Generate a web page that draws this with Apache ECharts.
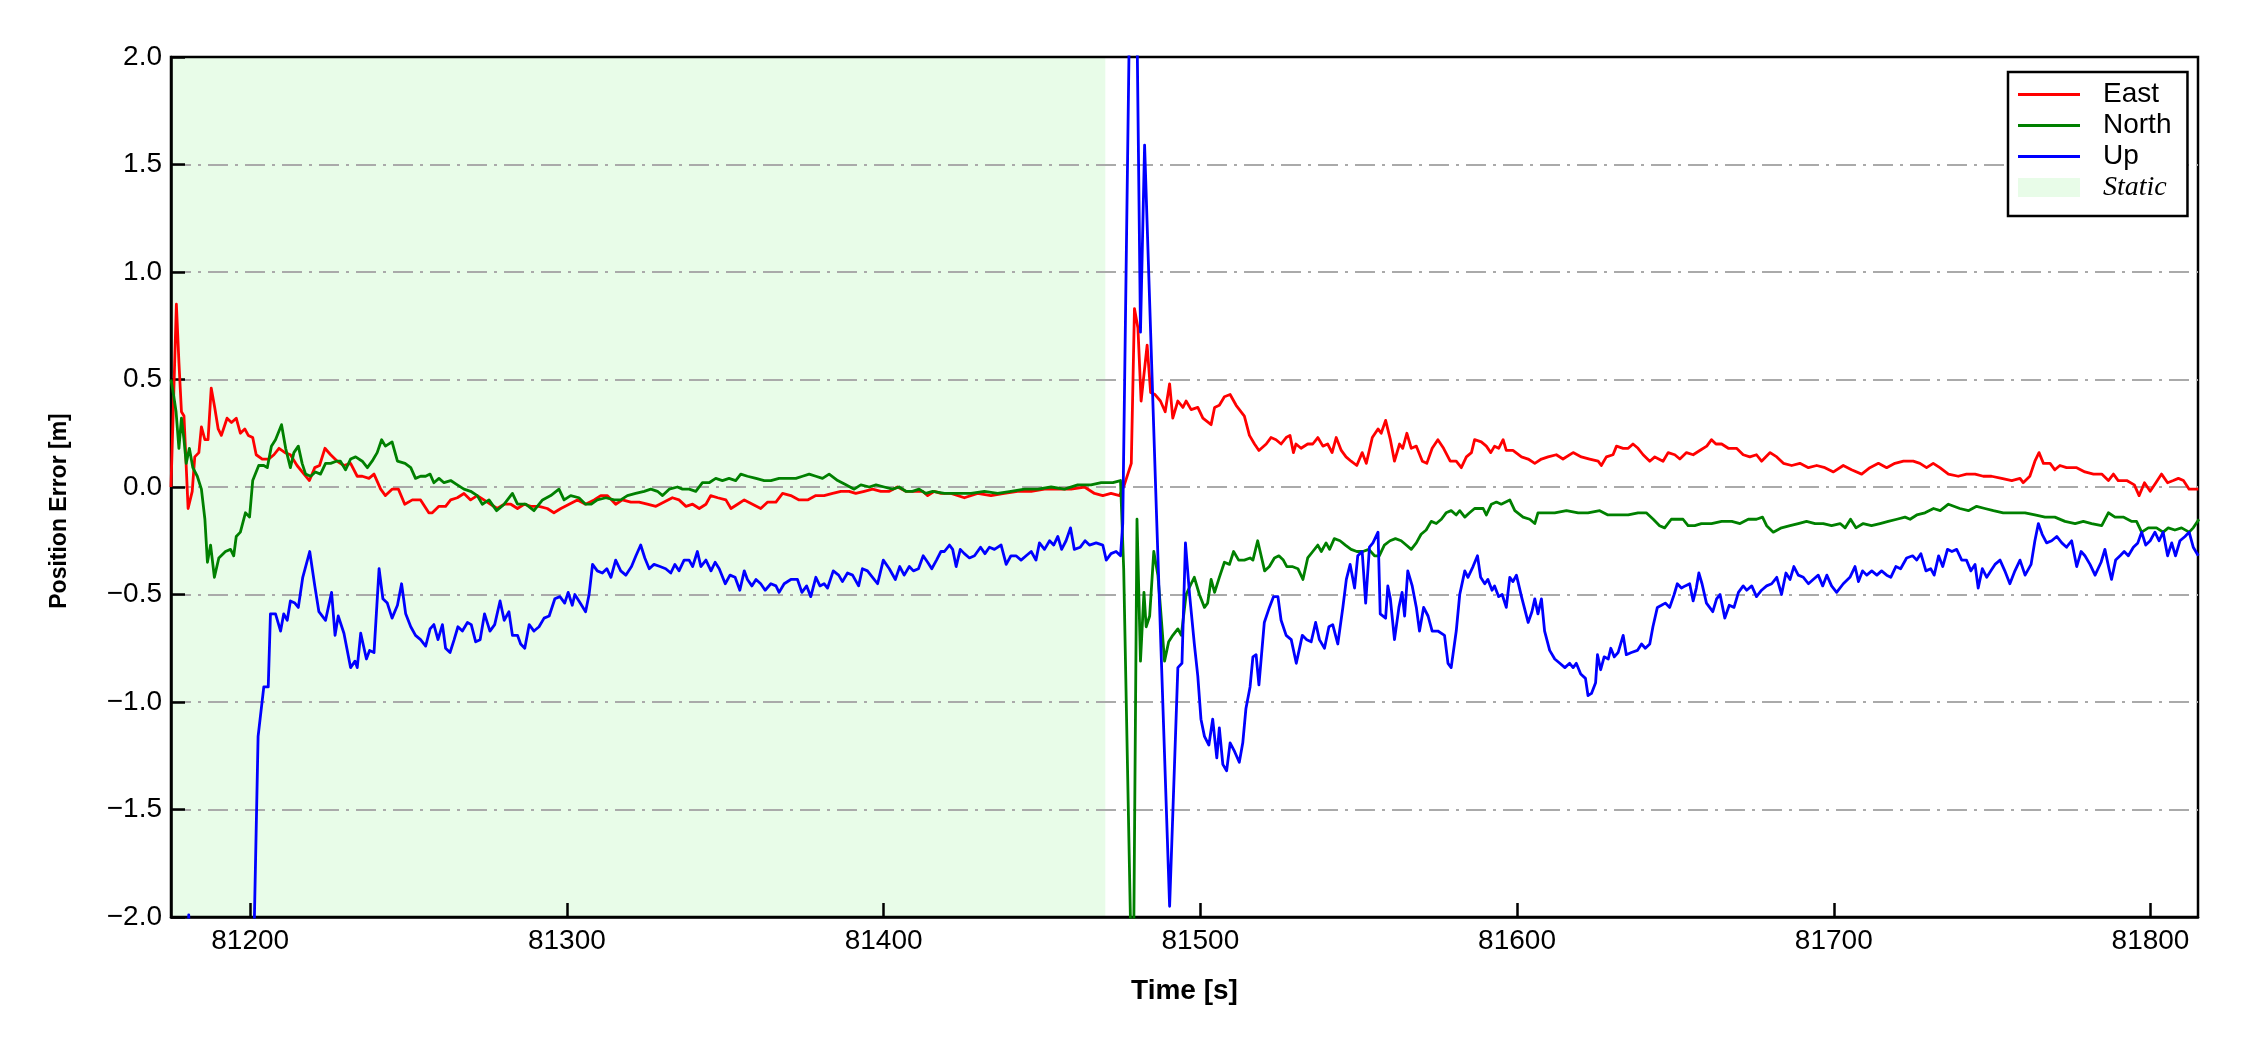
<!DOCTYPE html>
<html>
<head>
<meta charset="utf-8">
<script src="https://cdn.jsdelivr.net/npm/echarts@6/dist/echarts.min.js"></script>
<style>html,body{margin:0;padding:0;background:#fff;}#chart{width:2250px;height:1050px;}</style>
</head>
<body>
<div id="chart"></div>
<script>
// ---- Data (time [s], error [m]) ----
const xTicks = [81200, 81300, 81400, 81500, 81600, 81700, 81800];
const yTicks = [-2.0, -1.5, -1.0, -0.5, 0.0, 0.5, 1.0, 1.5, 2.0];
const staticSpan = [81175, 81470];
const seriesNames = ['East', 'North', 'Up', 'Static'];

const eastData = [[81175.0,0.00],[81176.7,0.85],[81177.5,0.58],[81178.3,0.35],[81179.1,0.33],[81180.4,-0.10],[81181.7,-0.02],[81182.5,0.14],[81183.8,0.16],[81184.6,0.28],[81185.7,0.22],[81186.7,0.22],[81187.7,0.46],[81188.8,0.37],[81189.9,0.27],[81190.9,0.24],[81192.7,0.32],[81194.1,0.30],[81195.6,0.32],[81196.9,0.25],[81198.3,0.27],[81199.4,0.24],[81200.8,0.23],[81201.9,0.15],[81203.8,0.13],[81205.9,0.13],[81207.5,0.15],[81209.1,0.18],[81211.0,0.16],[81212.7,0.15],[81214.8,0.10],[81217.0,0.06],[81218.7,0.03],[81220.4,0.09],[81221.9,0.10],[81223.6,0.18],[81225.4,0.15],[81227.5,0.12],[81229.6,0.10],[81231.7,0.11],[81233.8,0.05],[81235.4,0.05],[81237.5,0.04],[81239.1,0.06],[81241.2,-0.01],[81242.7,-0.04],[81244.8,-0.01],[81246.8,-0.01],[81248.8,-0.08],[81251.2,-0.06],[81253.8,-0.06],[81256.4,-0.12],[81257.5,-0.12],[81259.6,-0.09],[81261.7,-0.09],[81263.3,-0.06],[81265.4,-0.05],[81267.5,-0.03],[81269.6,-0.06],[81271.7,-0.04],[81273.8,-0.06],[81275.9,-0.08],[81278.0,-0.10],[81280.2,-0.08],[81282.3,-0.08],[81284.4,-0.10],[81286.5,-0.08],[81288.6,-0.09],[81291.2,-0.09],[81293.8,-0.10],[81295.9,-0.12],[81298.1,-0.10],[81300.7,-0.08],[81303.3,-0.06],[81305.9,-0.08],[81308.6,-0.06],[81310.7,-0.04],[81312.8,-0.04],[81315.4,-0.08],[81317.5,-0.06],[81320.2,-0.07],[81322.8,-0.07],[81325.4,-0.08],[81328.1,-0.09],[81330.7,-0.07],[81333.3,-0.05],[81335.4,-0.06],[81337.6,-0.09],[81339.7,-0.08],[81341.8,-0.10],[81343.9,-0.08],[81345.4,-0.04],[81347.6,-0.05],[81350.2,-0.06],[81351.8,-0.10],[81353.9,-0.08],[81356.0,-0.06],[81358.6,-0.08],[81361.2,-0.10],[81363.4,-0.07],[81366.0,-0.07],[81368.1,-0.03],[81370.7,-0.04],[81373.3,-0.06],[81376.0,-0.06],[81378.6,-0.04],[81381.2,-0.04],[81383.9,-0.03],[81386.5,-0.02],[81389.1,-0.02],[81391.2,-0.03],[81393.9,-0.02],[81396.5,-0.01],[81399.1,-0.02],[81401.8,-0.02],[81404.4,0.00],[81407.0,-0.02],[81409.7,-0.02],[81412.3,-0.02],[81413.9,-0.04],[81416.0,-0.02],[81418.1,-0.03],[81421.3,-0.03],[81425.5,-0.05],[81429.7,-0.03],[81433.9,-0.04],[81438.1,-0.03],[81442.3,-0.02],[81446.6,-0.02],[81450.8,-0.01],[81455.0,-0.01],[81459.2,-0.01],[81463.4,0.00],[81466.6,-0.03],[81469.2,-0.04],[81471.8,-0.03],[81474.5,-0.04],[81476.0,0.01],[81478.2,0.11],[81479.2,0.83],[81480.3,0.74],[81481.3,0.40],[81483.2,0.66],[81484.3,0.44],[81485.7,0.43],[81487.4,0.40],[81488.9,0.35],[81490.3,0.48],[81491.3,0.32],[81492.9,0.40],[81494.5,0.37],[81495.5,0.40],[81497.1,0.36],[81499.2,0.37],[81500.8,0.32],[81503.4,0.29],[81504.5,0.37],[81506.0,0.38],[81507.6,0.42],[81509.4,0.43],[81511.3,0.38],[81513.9,0.33],[81515.5,0.24],[81517.1,0.20],[81518.5,0.17],[81520.8,0.20],[81522.3,0.23],[81523.9,0.22],[81525.5,0.20],[81527.1,0.23],[81528.3,0.24],[81529.4,0.16],[81530.2,0.20],[81531.8,0.18],[81533.9,0.20],[81535.5,0.20],[81537.1,0.23],[81538.7,0.19],[81540.2,0.20],[81541.6,0.16],[81542.9,0.23],[81544.5,0.17],[81546.0,0.14],[81547.6,0.12],[81549.4,0.10],[81551.1,0.16],[81552.4,0.11],[81554.3,0.23],[81556.1,0.27],[81557.1,0.25],[81558.5,0.31],[81560.0,0.22],[81561.3,0.12],[81562.9,0.20],[81563.9,0.18],[81565.2,0.25],[81566.6,0.18],[81568.2,0.19],[81570.1,0.12],[81571.5,0.11],[81573.2,0.18],[81575.0,0.22],[81576.8,0.18],[81578.9,0.12],[81580.8,0.12],[81582.4,0.09],[81584.0,0.14],[81585.6,0.16],[81586.6,0.22],[81588.7,0.21],[81590.3,0.19],[81591.7,0.16],[81592.9,0.19],[81594.2,0.18],[81595.6,0.22],[81596.6,0.17],[81598.7,0.17],[81601.4,0.14],[81603.5,0.13],[81605.6,0.11],[81607.7,0.13],[81609.8,0.14],[81612.4,0.15],[81614.5,0.13],[81617.7,0.16],[81620.3,0.14],[81622.9,0.13],[81625.6,0.12],[81626.6,0.10],[81628.2,0.14],[81630.3,0.15],[81631.4,0.19],[81633.5,0.18],[81635.1,0.18],[81636.6,0.20],[81638.2,0.18],[81639.8,0.15],[81641.9,0.12],[81643.5,0.14],[81646.1,0.12],[81647.7,0.16],[81649.8,0.15],[81651.4,0.13],[81653.5,0.16],[81655.6,0.15],[81657.7,0.17],[81659.9,0.19],[81661.4,0.22],[81662.8,0.20],[81664.6,0.20],[81666.7,0.18],[81669.3,0.18],[81671.4,0.15],[81673.5,0.14],[81675.6,0.15],[81677.2,0.12],[81679.9,0.16],[81682.0,0.14],[81684.1,0.11],[81686.7,0.10],[81689.3,0.11],[81692.0,0.09],[81694.6,0.10],[81697.2,0.09],[81699.9,0.07],[81703.0,0.10],[81705.6,0.08],[81708.8,0.06],[81711.4,0.09],[81714.1,0.11],[81716.7,0.09],[81719.3,0.11],[81722.0,0.12],[81725.1,0.12],[81727.2,0.11],[81729.3,0.09],[81731.4,0.11],[81733.5,0.09],[81736.2,0.06],[81739.3,0.05],[81741.9,0.06],[81744.6,0.06],[81747.2,0.05],[81749.8,0.05],[81753.0,0.04],[81756.2,0.03],[81758.8,0.04],[81759.8,0.02],[81761.9,0.05],[81763.5,0.12],[81764.8,0.16],[81766.2,0.11],[81768.3,0.11],[81769.8,0.08],[81771.4,0.10],[81773.5,0.09],[81776.7,0.09],[81779.3,0.07],[81782.0,0.06],[81784.6,0.06],[81786.7,0.03],[81788.3,0.06],[81789.8,0.03],[81792.5,0.03],[81794.9,0.01],[81796.4,-0.04],[81798.1,0.02],[81799.9,-0.02],[81801.7,0.02],[81803.5,0.06],[81805.4,0.02],[81807.2,0.03],[81808.8,0.04],[81810.4,0.03],[81812.2,-0.01],[81815.1,-0.01]];

const northData = [[81175.0,0.50],[81175.9,0.42],[81176.6,0.35],[81177.5,0.18],[81178.3,0.32],[81179.1,0.22],[81179.8,0.11],[81180.8,0.18],[81181.9,0.09],[81183.3,0.05],[81184.6,-0.01],[81185.7,-0.15],[81186.5,-0.35],[81187.5,-0.27],[81188.7,-0.42],[81190.1,-0.33],[81192.2,-0.30],[81193.8,-0.29],[81194.8,-0.32],[81195.6,-0.23],[81196.9,-0.21],[81198.5,-0.12],[81199.8,-0.14],[81200.8,0.03],[81202.7,0.10],[81204.3,0.10],[81205.4,0.09],[81206.7,0.19],[81208.0,0.22],[81209.9,0.29],[81211.2,0.18],[81212.7,0.09],[81213.8,0.16],[81215.2,0.19],[81216.4,0.11],[81217.5,0.06],[81219.1,0.05],[81220.6,0.07],[81222.2,0.06],[81223.8,0.11],[81225.4,0.11],[81227.2,0.12],[81228.5,0.12],[81230.1,0.08],[81231.7,0.13],[81233.3,0.14],[81235.4,0.12],[81237.0,0.09],[81238.5,0.12],[81240.1,0.16],[81241.5,0.22],[81242.7,0.19],[81244.8,0.21],[81246.5,0.12],[81248.9,0.11],[81250.7,0.09],[81252.2,0.04],[81253.8,0.05],[81255.4,0.05],[81256.8,0.06],[81258.0,0.02],[81259.6,0.04],[81261.2,0.02],[81263.3,0.03],[81265.4,0.01],[81267.5,-0.01],[81269.6,-0.02],[81271.7,-0.04],[81273.3,-0.08],[81275.4,-0.06],[81277.8,-0.11],[81280.2,-0.08],[81282.8,-0.03],[81284.4,-0.08],[81287.0,-0.08],[81289.6,-0.11],[81292.3,-0.06],[81294.9,-0.04],[81297.5,-0.01],[81299.1,-0.06],[81301.2,-0.04],[81303.8,-0.05],[81305.9,-0.08],[81307.7,-0.08],[81309.6,-0.06],[81312.3,-0.05],[81314.9,-0.06],[81317.0,-0.06],[81319.1,-0.04],[81321.7,-0.03],[81324.4,-0.02],[81326.5,-0.01],[81328.6,-0.02],[81330.2,-0.04],[81332.3,-0.01],[81334.9,0.00],[81336.5,-0.01],[81338.6,-0.01],[81340.7,-0.02],[81342.8,0.02],[81344.9,0.02],[81347.0,0.04],[81349.1,0.03],[81351.2,0.04],[81353.3,0.03],[81354.9,0.06],[81357.0,0.05],[81359.7,0.04],[81362.3,0.03],[81364.4,0.03],[81367.0,0.04],[81369.7,0.04],[81372.3,0.04],[81374.4,0.05],[81376.5,0.06],[81378.6,0.05],[81380.7,0.04],[81382.8,0.06],[81385.5,0.03],[81388.1,0.01],[81390.7,-0.01],[81392.8,0.01],[81395.5,0.00],[81397.6,0.01],[81400.2,0.00],[81402.8,-0.01],[81404.9,0.00],[81407.0,-0.02],[81409.1,-0.02],[81411.2,-0.01],[81413.3,-0.03],[81415.5,-0.02],[81419.2,-0.03],[81423.4,-0.03],[81427.6,-0.03],[81431.8,-0.02],[81436.0,-0.03],[81440.2,-0.02],[81444.5,-0.01],[81448.7,-0.01],[81452.9,0.00],[81457.1,-0.01],[81461.3,0.01],[81465.5,0.01],[81468.7,0.02],[81472.4,0.02],[81474.8,0.03],[81475.8,-0.38],[81478.7,-2.60],[81480.0,-0.15],[81481.1,-0.81],[81482.2,-0.49],[81482.9,-0.65],[81484.0,-0.60],[81485.3,-0.30],[81486.6,-0.41],[81487.4,-0.56],[81488.7,-0.81],[81490.0,-0.72],[81491.3,-0.69],[81492.9,-0.66],[81494.0,-0.69],[81495.5,-0.50],[81497.1,-0.45],[81498.1,-0.42],[81499.7,-0.50],[81501.3,-0.56],[81502.3,-0.54],[81503.4,-0.43],[81504.5,-0.49],[81506.0,-0.42],[81507.6,-0.35],[81509.2,-0.36],[81510.5,-0.30],[81512.1,-0.34],[81513.9,-0.34],[81515.7,-0.33],[81516.6,-0.34],[81518.1,-0.25],[81520.3,-0.39],[81521.8,-0.37],[81523.4,-0.33],[81524.8,-0.32],[81526.2,-0.34],[81527.3,-0.37],[81529.0,-0.37],[81530.8,-0.38],[81532.4,-0.43],[81533.9,-0.33],[81535.5,-0.30],[81537.1,-0.27],[81538.2,-0.30],[81539.7,-0.26],[81540.8,-0.29],[81542.3,-0.24],[81544.1,-0.25],[81545.8,-0.27],[81547.6,-0.29],[81549.4,-0.30],[81551.3,-0.30],[81553.2,-0.29],[81555.0,-0.32],[81556.5,-0.32],[81558.1,-0.27],[81559.9,-0.25],[81561.6,-0.24],[81563.4,-0.25],[81565.0,-0.27],[81566.6,-0.29],[81568.2,-0.26],[81569.7,-0.22],[81571.3,-0.20],[81572.9,-0.16],[81574.5,-0.17],[81576.1,-0.15],[81577.6,-0.12],[81579.2,-0.11],[81580.8,-0.13],[81581.9,-0.11],[81583.5,-0.14],[81585.0,-0.12],[81586.6,-0.10],[81589.3,-0.10],[81590.3,-0.13],[81591.9,-0.08],[81593.5,-0.07],[81595.0,-0.08],[81597.7,-0.06],[81599.3,-0.11],[81601.9,-0.14],[81604.0,-0.15],[81605.6,-0.17],[81606.6,-0.12],[81608.7,-0.12],[81611.9,-0.12],[81615.6,-0.11],[81619.3,-0.12],[81622.4,-0.12],[81626.1,-0.11],[81628.7,-0.13],[81631.9,-0.13],[81635.1,-0.13],[81638.2,-0.12],[81640.8,-0.12],[81643.0,-0.15],[81645.0,-0.18],[81646.6,-0.19],[81648.7,-0.15],[81650.8,-0.15],[81652.4,-0.15],[81654.0,-0.18],[81656.1,-0.18],[81658.2,-0.17],[81661.4,-0.17],[81664.6,-0.16],[81667.8,-0.16],[81670.4,-0.17],[81673.0,-0.15],[81675.6,-0.15],[81677.5,-0.14],[81678.8,-0.18],[81680.9,-0.21],[81683.5,-0.19],[81686.2,-0.18],[81688.8,-0.17],[81691.4,-0.16],[81694.1,-0.17],[81696.7,-0.17],[81699.3,-0.18],[81702.0,-0.17],[81703.6,-0.19],[81705.3,-0.15],[81707.0,-0.19],[81709.3,-0.17],[81711.9,-0.18],[81714.6,-0.17],[81717.2,-0.16],[81719.9,-0.15],[81722.5,-0.14],[81724.1,-0.15],[81726.2,-0.13],[81728.8,-0.12],[81731.5,-0.10],[81733.6,-0.11],[81736.2,-0.08],[81739.8,-0.10],[81742.5,-0.11],[81745.1,-0.09],[81747.7,-0.10],[81750.4,-0.11],[81753.5,-0.12],[81757.2,-0.12],[81760.4,-0.12],[81763.5,-0.13],[81766.7,-0.14],[81769.8,-0.14],[81773.0,-0.16],[81776.2,-0.17],[81778.8,-0.16],[81781.4,-0.17],[81784.6,-0.18],[81786.7,-0.12],[81788.8,-0.14],[81791.4,-0.14],[81794.1,-0.16],[81795.6,-0.16],[81797.2,-0.21],[81799.3,-0.19],[81801.9,-0.19],[81804.0,-0.21],[81805.6,-0.19],[81807.7,-0.20],[81809.8,-0.19],[81812.2,-0.21],[81813.5,-0.19],[81815.3,-0.15]];

const upData = [[81175.0,-3.00],[81179.8,-2.60],[81180.6,-1.99],[81181.4,-2.60],[81199.5,-3.00],[81200.5,-2.60],[81202.5,-1.16],[81204.3,-0.93],[81205.7,-0.93],[81206.4,-0.59],[81208.0,-0.59],[81209.6,-0.67],[81210.6,-0.59],[81211.7,-0.62],[81212.7,-0.53],[81214.1,-0.54],[81215.2,-0.56],[81216.6,-0.42],[81218.8,-0.30],[81220.4,-0.46],[81221.7,-0.58],[81223.8,-0.62],[81225.7,-0.49],[81226.8,-0.69],[81227.8,-0.60],[81229.6,-0.68],[81231.7,-0.84],[81233.1,-0.81],[81233.8,-0.84],[81234.9,-0.68],[81236.7,-0.80],[81237.7,-0.76],[81239.1,-0.77],[81240.7,-0.38],[81241.9,-0.52],[81243.3,-0.54],[81244.8,-0.61],[81246.5,-0.55],[81247.8,-0.45],[81249.1,-0.59],[81250.7,-0.65],[81252.2,-0.69],[81253.8,-0.71],[81255.4,-0.74],[81256.8,-0.66],[81258.0,-0.64],[81259.3,-0.71],[81260.7,-0.64],[81261.7,-0.75],[81263.1,-0.77],[81264.4,-0.71],[81265.6,-0.65],[81267.0,-0.67],[81268.6,-0.63],[81269.8,-0.64],[81271.2,-0.72],[81272.6,-0.71],[81274.0,-0.59],[81275.7,-0.67],[81277.2,-0.64],[81278.9,-0.53],[81280.2,-0.62],[81281.7,-0.58],[81282.8,-0.69],[81284.4,-0.69],[81285.4,-0.73],[81286.7,-0.75],[81288.1,-0.64],[81289.6,-0.67],[81291.2,-0.65],[81292.8,-0.61],[81294.4,-0.60],[81296.2,-0.52],[81297.8,-0.51],[81299.3,-0.54],[81300.4,-0.49],[81301.7,-0.55],[81302.5,-0.50],[81304.2,-0.54],[81305.9,-0.58],[81307.0,-0.50],[81308.1,-0.36],[81309.6,-0.39],[81311.2,-0.40],[81312.6,-0.38],[81313.9,-0.42],[81315.4,-0.34],[81317.0,-0.39],[81318.6,-0.41],[81320.4,-0.37],[81321.8,-0.32],[81323.3,-0.27],[81324.6,-0.33],[81326.0,-0.38],[81327.5,-0.36],[81329.4,-0.37],[81331.2,-0.38],[81332.8,-0.40],[81334.1,-0.36],[81335.4,-0.39],[81337.0,-0.34],[81338.6,-0.34],[81339.7,-0.37],[81341.2,-0.30],[81342.3,-0.37],[81343.9,-0.34],[81345.5,-0.39],[81346.8,-0.35],[81348.1,-0.38],[81350.0,-0.45],[81351.5,-0.41],[81353.1,-0.42],[81354.6,-0.48],[81356.0,-0.39],[81357.0,-0.43],[81358.4,-0.46],[81359.7,-0.43],[81361.2,-0.45],[81362.6,-0.48],[81364.4,-0.45],[81366.0,-0.46],[81367.0,-0.49],[81368.6,-0.45],[81370.7,-0.43],[81372.8,-0.43],[81374.2,-0.49],[81375.7,-0.46],[81377.0,-0.51],[81378.6,-0.42],[81379.9,-0.46],[81381.2,-0.45],[81382.3,-0.47],[81384.1,-0.39],[81385.8,-0.41],[81387.0,-0.44],[81388.6,-0.40],[81390.2,-0.41],[81392.1,-0.46],[81393.3,-0.38],[81394.9,-0.39],[81396.5,-0.42],[81398.1,-0.45],[81399.9,-0.34],[81401.8,-0.38],[81403.7,-0.43],[81405.1,-0.37],[81406.5,-0.41],[81408.1,-0.37],[81409.4,-0.39],[81411.0,-0.38],[81412.5,-0.32],[81413.9,-0.35],[81415.2,-0.38],[81416.7,-0.34],[81418.1,-0.30],[81419.2,-0.30],[81420.8,-0.27],[81421.8,-0.29],[81422.9,-0.37],[81424.2,-0.29],[81425.5,-0.31],[81427.1,-0.33],[81428.7,-0.32],[81430.6,-0.28],[81432.0,-0.31],[81433.4,-0.28],[81435.0,-0.29],[81437.1,-0.27],[81438.7,-0.36],[81440.2,-0.32],[81441.8,-0.32],[81443.4,-0.34],[81445.0,-0.32],[81446.6,-0.30],[81448.1,-0.34],[81449.2,-0.26],[81450.8,-0.29],[81452.4,-0.25],[81453.7,-0.27],[81455.0,-0.23],[81456.2,-0.29],[81457.6,-0.25],[81459.0,-0.19],[81460.2,-0.29],[81462.1,-0.28],[81463.6,-0.25],[81465.0,-0.27],[81467.1,-0.26],[81469.2,-0.27],[81470.3,-0.34],[81471.8,-0.31],[81473.4,-0.30],[81474.8,-0.32],[81475.5,-0.17],[81478.0,2.60],[81479.5,2.80],[81481.1,0.72],[81482.4,1.59],[81486.1,-0.10],[81490.3,-1.95],[81492.9,-0.84],[81494.2,-0.82],[81495.3,-0.26],[81496.6,-0.50],[81498.1,-0.73],[81499.2,-0.88],[81500.2,-1.08],[81501.3,-1.16],[81502.7,-1.20],[81503.9,-1.08],[81505.2,-1.26],[81506.0,-1.12],[81507.1,-1.29],[81508.3,-1.32],[81509.4,-1.19],[81510.8,-1.23],[81512.3,-1.28],[81513.4,-1.19],[81514.4,-1.03],[81515.7,-0.93],[81516.6,-0.79],[81517.6,-0.78],[81518.5,-0.92],[81520.2,-0.63],[81521.8,-0.56],[81523.1,-0.51],[81524.5,-0.51],[81525.5,-0.62],[81527.1,-0.69],[81528.7,-0.71],[81530.3,-0.82],[81532.2,-0.69],[81533.6,-0.71],[81535.0,-0.72],[81536.4,-0.63],[81537.6,-0.71],[81539.2,-0.75],[81540.6,-0.65],[81541.8,-0.64],[81543.4,-0.73],[81545.0,-0.56],[81546.1,-0.43],[81547.3,-0.36],[81548.7,-0.47],[81549.7,-0.32],[81551.1,-0.30],[81552.2,-0.54],[81553.4,-0.28],[81554.5,-0.26],[81556.1,-0.21],[81556.8,-0.59],[81558.5,-0.61],[81559.2,-0.46],[81560.0,-0.52],[81561.3,-0.71],[81562.7,-0.56],[81563.7,-0.49],[81564.5,-0.60],[81565.5,-0.39],[81566.9,-0.46],[81568.2,-0.56],[81569.2,-0.67],[81570.5,-0.56],[81571.9,-0.60],[81573.2,-0.67],[81575.0,-0.67],[81577.1,-0.69],[81578.2,-0.82],[81579.2,-0.84],[81580.8,-0.67],[81581.9,-0.50],[81583.5,-0.39],[81584.5,-0.42],[81586.1,-0.37],[81587.5,-0.32],[81588.5,-0.42],[81589.8,-0.45],[81590.8,-0.43],[81592.1,-0.48],[81592.9,-0.46],[81594.2,-0.51],[81595.3,-0.50],[81596.6,-0.56],[81597.7,-0.42],[81598.7,-0.44],[81599.8,-0.41],[81601.4,-0.51],[81603.5,-0.63],[81604.7,-0.58],[81605.6,-0.52],[81606.6,-0.59],[81607.7,-0.52],[81608.7,-0.67],[81610.3,-0.76],[81611.9,-0.80],[81613.5,-0.82],[81615.1,-0.84],[81616.6,-0.82],[81617.7,-0.84],[81618.7,-0.82],[81620.1,-0.87],[81621.6,-0.89],[81622.4,-0.97],[81623.5,-0.96],[81624.8,-0.91],[81625.4,-0.78],[81626.4,-0.85],[81627.5,-0.79],[81628.8,-0.80],[81629.6,-0.75],[81630.7,-0.79],[81631.9,-0.77],[81633.5,-0.69],[81634.5,-0.78],[81636.1,-0.77],[81638.0,-0.76],[81639.3,-0.73],[81640.5,-0.75],[81641.9,-0.73],[81642.9,-0.65],[81644.3,-0.56],[81645.6,-0.55],[81646.8,-0.54],[81648.2,-0.56],[81649.6,-0.50],[81650.6,-0.45],[81651.9,-0.47],[81653.1,-0.46],[81654.5,-0.45],[81655.6,-0.53],[81656.6,-0.47],[81657.4,-0.40],[81658.4,-0.45],[81659.8,-0.54],[81661.8,-0.58],[81663.0,-0.52],[81664.1,-0.50],[81665.6,-0.61],[81667.0,-0.55],[81668.5,-0.56],[81669.9,-0.49],[81671.4,-0.46],[81672.5,-0.48],[81674.1,-0.46],[81675.6,-0.51],[81677.2,-0.48],[81678.8,-0.46],[81680.4,-0.45],[81682.0,-0.42],[81683.5,-0.50],[81684.9,-0.40],[81686.2,-0.43],[81687.4,-0.37],[81688.8,-0.41],[81690.4,-0.42],[81692.0,-0.45],[81693.5,-0.43],[81695.1,-0.41],[81696.5,-0.46],[81697.8,-0.41],[81699.3,-0.46],[81700.9,-0.49],[81703.0,-0.45],[81705.1,-0.42],[81706.7,-0.37],[81707.8,-0.44],[81709.1,-0.39],[81710.4,-0.41],[81712.0,-0.39],[81713.6,-0.41],[81715.1,-0.39],[81716.7,-0.41],[81718.0,-0.42],[81719.6,-0.37],[81721.1,-0.38],[81723.0,-0.33],[81724.9,-0.32],[81726.2,-0.34],[81727.5,-0.31],[81729.1,-0.39],[81730.6,-0.38],[81731.7,-0.41],[81733.1,-0.32],[81734.4,-0.37],[81735.9,-0.29],[81737.3,-0.30],[81738.8,-0.29],[81740.4,-0.34],[81741.9,-0.34],[81743.3,-0.39],[81744.6,-0.36],[81745.6,-0.47],[81746.9,-0.38],[81748.3,-0.42],[81749.6,-0.39],[81750.9,-0.36],[81752.5,-0.34],[81754.0,-0.39],[81755.6,-0.45],[81757.2,-0.39],[81758.8,-0.34],[81760.4,-0.41],[81762.3,-0.36],[81763.5,-0.25],[81764.6,-0.17],[81765.8,-0.22],[81767.2,-0.26],[81768.8,-0.25],[81770.4,-0.23],[81772.0,-0.26],[81773.5,-0.28],[81775.1,-0.25],[81776.7,-0.37],[81778.1,-0.30],[81779.3,-0.32],[81780.9,-0.36],[81782.5,-0.41],[81784.4,-0.35],[81785.6,-0.29],[81786.9,-0.38],[81787.7,-0.43],[81789.0,-0.34],[81790.4,-0.32],[81791.7,-0.30],[81793.0,-0.32],[81794.6,-0.28],[81796.0,-0.26],[81797.2,-0.21],[81798.5,-0.27],[81799.9,-0.25],[81801.4,-0.21],[81802.7,-0.25],[81804.0,-0.21],[81805.4,-0.32],[81806.7,-0.26],[81807.9,-0.32],[81809.3,-0.25],[81810.9,-0.23],[81812.2,-0.21],[81813.5,-0.28],[81815.1,-0.32]];

// ---- Chart ----
const chart = echarts.init(document.getElementById('chart'), null, {renderer: 'canvas'});
const SANS = '"Liberation Sans", Arial, sans-serif';
const SERIF = '"Liberation Serif", "Times New Roman", serif';
const TOP = 1; // zlevel for everything drawn above the static shading
const lineSeries = (name, data, color) => ({
  name, type: 'line', data, showSymbol: false, symbol: 'none', clip: true, zlevel: TOP, z: 3,
  lineStyle: {color, width: 2.8, join: 'round'}, itemStyle: {color}, animation: false
});
const lineIcon = 'path://M0,0H62V2.8H0Z';

chart.setOption({
  animation: false,
  backgroundColor: '#ffffff',
  grid: {left: 171, right: 52, top: 57, bottom: 133, show: true, zlevel: TOP, borderColor: '#000', borderWidth: 2.5, backgroundColor: 'transparent'},
  legend: {
    zlevel: TOP,
    orient: 'vertical', left: 2008, top: 72,
    backgroundColor: '#fff', borderColor: '#000', borderWidth: 2.5, borderRadius: 0,
    padding: [7, 16, 13, 10], itemWidth: 62, itemHeight: 19, itemGap: 0,
    textStyle: {fontFamily: SANS, fontSize: 28, color: '#000', lineHeight: 31, padding: [0, 0, 0, 18]},
    selectedMode: false,
    data: [
      {name: seriesNames[0], icon: lineIcon},
      {name: seriesNames[1], icon: lineIcon},
      {name: seriesNames[2], icon: lineIcon},
      {name: seriesNames[3], icon: 'rect', textStyle: {fontFamily: SERIF, fontStyle: 'italic', fontSize: 28}}
    ]
  },
  xAxis: {
    type: 'value', min: 81175, max: 81815, zlevel: TOP,
    name: 'Time [s]', nameLocation: 'middle', nameGap: 60,
    nameTextStyle: {fontFamily: SANS, fontWeight: 'bold', fontSize: 28, color: '#000'},
    axisLine: {show: true, onZero: false, lineStyle: {color: '#000', width: 2.5}},
    axisTick: {show: true, inside: true, length: 14, customValues: xTicks, lineStyle: {color: '#000', width: 2.5}},
    axisLabel: {show: true, margin: 10, customValues: xTicks, fontFamily: SANS, fontSize: 28, color: '#000',
      formatter: v => String(v)},
    splitLine: {show: false}
  },
  yAxis: {
    type: 'value', min: yTicks[0], max: yTicks[yTicks.length - 1], interval: 0.5, zlevel: TOP,
    name: 'Position Error [m]', nameLocation: 'middle', nameGap: 100, nameRotate: 90,
    nameTextStyle: {fontFamily: SANS, fontWeight: 'bold', fontSize: 23, color: '#000', padding: [0, 48, 0, 0]},
    axisLine: {show: true, onZero: false, lineStyle: {color: '#000', width: 2.5}},
    axisTick: {show: true, inside: true, length: 14, lineStyle: {color: '#000', width: 2.5}},
    axisLabel: {show: true, margin: 9, fontFamily: SANS, fontSize: 28, color: '#000', showMinLabel: true, showMaxLabel: true,
      formatter: v => (v < 0 ? '\u2212' : '') + Math.abs(v).toFixed(1)},
    splitLine: {show: true, showMinLine: false, showMaxLine: false,
      lineStyle: {color: '#aaaaaa', width: 2, type: [20, 7, 3, 7]}}
  },
  series: [
    lineSeries(seriesNames[0], eastData, '#ff0000'),
    lineSeries(seriesNames[1], northData, '#008000'),
    lineSeries(seriesNames[2], upData, '#0000ff'),
    {
      name: seriesNames[3], type: 'line', data: [], zlevel: 0, z: 0, symbol: 'none',
      itemStyle: {color: '#e8fce8'}, lineStyle: {color: '#e8fce8'},
      markArea: {silent: true, itemStyle: {color: '#e8fce8'},
        data: [[{xAxis: staticSpan[0]}, {xAxis: staticSpan[1]}]]}
    }
  ]
});
</script>
</body>
</html>
